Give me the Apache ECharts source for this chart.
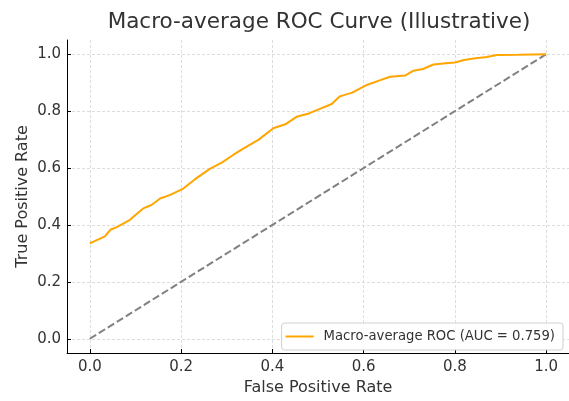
<!DOCTYPE html>
<html><head><meta charset="utf-8">
<script src="https://cdn.jsdelivr.net/npm/echarts@6/dist/echarts.min.js"></script>
<style>html,body{margin:0;padding:0;background:#fff}#c{width:569px;height:401px}</style>
</head><body><div id="c"></div>
<script>
const fpr = [0, 0.02, 0.033, 0.045, 0.06, 0.088, 0.1, 0.117, 0.135, 0.154, 0.175, 0.205, 0.23, 0.263, 0.29, 0.314, 0.34, 0.37, 0.402, 0.43, 0.453, 0.48, 0.504, 0.53, 0.548, 0.575, 0.607, 0.635, 0.658, 0.691, 0.709, 0.73, 0.753, 0.78, 0.8, 0.82, 0.841, 0.87, 0.892, 0.94, 0.97, 1.0];
const tpr = [0.335, 0.35, 0.36, 0.383, 0.393, 0.418, 0.435, 0.458, 0.47, 0.493, 0.505, 0.528, 0.56, 0.597, 0.62, 0.646, 0.672, 0.70, 0.740, 0.755, 0.780, 0.792, 0.808, 0.825, 0.852, 0.865, 0.892, 0.908, 0.921, 0.925, 0.942, 0.948, 0.964, 0.968, 0.971, 0.98, 0.985, 0.99, 0.997, 0.998, 0.999, 1.0];
const chanceX = [0, 1];
const chanceY = [0, 1];
const ticks = [0, 0.2, 0.4, 0.6, 0.8, 1.0];
const rocName = 'Macro-average ROC (AUC = 0.759)';
const titleText = 'Macro-average ROC Curve (Illustrative)';

const font = 'DejaVu Sans';
function axisCfg(name, isX) {
  return {
    type: 'value', min: -0.05, max: 1.05,
    name: name, nameLocation: 'middle', nameGap: isX ? 27 : 36, nameMoveOverlap: false,
    nameTextStyle: {fontFamily: font, fontSize: 16, color: '#333'},
    axisLine: {show: true, onZero: false, lineStyle: {color: '#000', width: 1}},
    axisTick: {show: true, inside: true, length: 4, customValues: ticks, lineStyle: {color: '#000', width: 1}},
    axisLabel: {customValues: ticks, formatter: v => v.toFixed(1), fontFamily: font, fontSize: 15, color: '#333', margin: isX ? 7 : 6},
    splitLine: {show: true, lineStyle: {color: '#d4d4d4', type: [3, 2], width: 0.8}}
  };
}
const chart = echarts.init(document.getElementById('c'), null, {renderer: 'canvas'});
chart.setOption({
  animation: false,
  title: {text: titleText, left: 314, textAlign: 'center', top: 6,
    textStyle: {fontFamily: font, fontSize: 21.5, fontWeight: 'normal', color: '#333'}},
  grid: {left: 67, right: 0, top: 40, bottom: 45},
  xAxis: axisCfg('False Positive Rate', true),
  yAxis: axisCfg('True Positive Rate', false),
  legend: {
    data: [rocName], right: 6, bottom: 51, orient: 'vertical',
    icon: 'rect', itemWidth: 28, itemHeight: 2, itemGap: 0,
    padding: [7, 8, 7, 4], borderColor: '#d0d0d0', borderWidth: 1, borderRadius: 3,
    backgroundColor: 'rgba(255,255,255,0.85)',
    textStyle: {fontFamily: font, fontSize: 13.2, color: '#333', padding: [0, 0, 0, 5]}
  },
  series: [
    {name: rocName, type: 'line', data: fpr.map((x, i) => [x, tpr[i]]), showSymbol: false, symbol: 'none',
     lineStyle: {color: '#FFA500', width: 2}, itemStyle: {color: '#FFA500'}, z: 3},
    {name: 'chance', type: 'line', data: chanceX.map((x, i) => [x, chanceY[i]]), showSymbol: false, symbol: 'none',
     lineStyle: {color: '#808080', width: 2, type: [7.4, 3.2]}, z: 2}
  ]
});
</script></body></html>
